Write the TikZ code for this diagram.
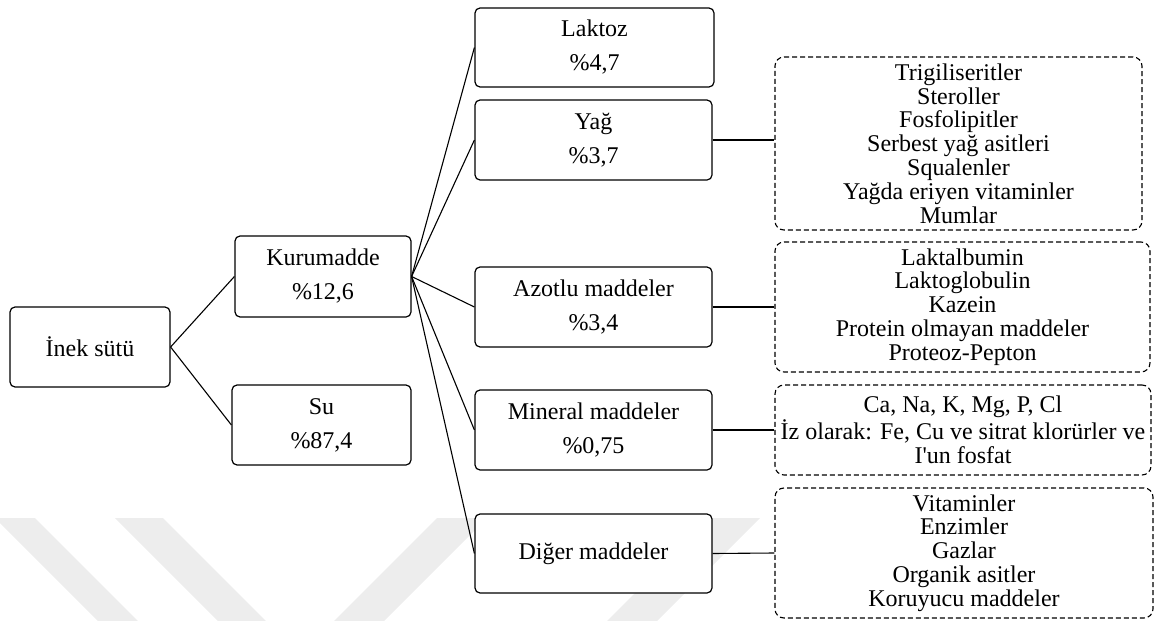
\documentclass[tikz,border=0pt]{standalone}
\usepackage{fontspec}
\setmainfont{Liberation Serif}

\begin{document}
\begin{tikzpicture}[x=0.5pt,y=-0.5pt,
        kutu/.style={draw,fill=white,line width=0.6pt,rounded corners=2.5pt,align=center,inner sep=0pt,font=\fontsize{12}{17}\selectfont},
        liste/.style={draw,fill=white,dash pattern=on 2.5pt off 1.5pt,line width=0.55pt,rounded corners=4.5pt,align=center,inner sep=0pt,font=\fontsize{12}{11.9}\selectfont},
        bag/.style={line width=0.55pt}]
        \useasboundingbox (0,0) rectangle (1158,621);
        \fill[black!7] (-5,518)--(35,518)--(138,621)--(98,621)--cycle;
        \fill[black!7] (115,518)--(163,518)--(266,621)--(218,621)--cycle;
        \fill[black!7] (437,518)--(487,518)--(384,621)--(334,621)--cycle;
        \fill[black!7] (710,518)--(760,518)--(657,621)--(607,621)--cycle;
        \node[kutu,minimum width=80pt,minimum height=40pt] (inek) at (90,347) {İnek sütü};
        \node[kutu,minimum width=88pt,minimum height=40.5pt] (kuru) at (323,276.5) {Kurumadde\\\%12,6};
        \node[kutu,minimum width=89.5pt,minimum height=40pt] (su) at (321.5,425) {Su\\\%87,4};
        \node[kutu,minimum width=119.5pt,minimum height=39.5pt] (laktoz) at (594.5,47.5) {Laktoz\\\%4,7};
        \node[kutu,minimum width=118.5pt,minimum height=40pt] (yag) at (593.5,140) {Yağ\\\%3,7};
        \node[kutu,minimum width=118.5pt,minimum height=40pt] (azot) at (593.5,307) {Azotlu maddeler\\\%3,4};
        \node[kutu,minimum width=118.5pt,minimum height=40pt] (mineral) at (593.5,430) {Mineral maddeler\\\%0,75};
        \node[kutu,minimum width=118.5pt,minimum height=39.5pt] (diger) at (593.5,553.5) {Diğer maddeler};
        \node[liste,minimum width=183.5pt,minimum height=86.5pt] (yagliste) at (958.5,143.5) {Trigiliseritler\\Steroller\\Fosfolipitler\\Serbest yağ asitleri\\Squalenler\\Yağda eriyen vitaminler\\Mumlar};
        \node[liste,minimum width=187.5pt,minimum height=65pt] (azotliste) at (962.5,307) {Laktalbumin\\Laktoglobulin\\Kazein\\Protein olmayan maddeler\\Proteoz-Pepton};
        \node[liste,minimum width=188pt,minimum height=45pt] (minliste) at (963,430) {Ca, Na, K, Mg, P, Cl\\İz olarak: Fe, Cu ve sitrat klorürler ve\\I\textquotesingle un fosfat};
        \node[liste,minimum width=189pt,minimum height=65pt] (digerliste) at (964,553) {Vitaminler\\Enzimler\\Gazlar\\Organik asitler\\Koruyucu maddeler};
        \draw[bag] (inek.east) -- (kuru.west);
        \draw[bag] (inek.east) -- (su.west);
        \foreach \n in {laktoz,yag,azot,mineral,diger}
        \draw[bag] (kuru.east) -- (\n.west);
        \draw[bag] (yag.east) -- (yag.east -| yagliste.west);
        \draw[bag] (azot.east) -- (azotliste.west);
        \draw[bag] (mineral.east) -- (minliste.west);
        \draw[bag] (diger.east) -- (digerliste.west);
    \end{tikzpicture}
\end{document}
